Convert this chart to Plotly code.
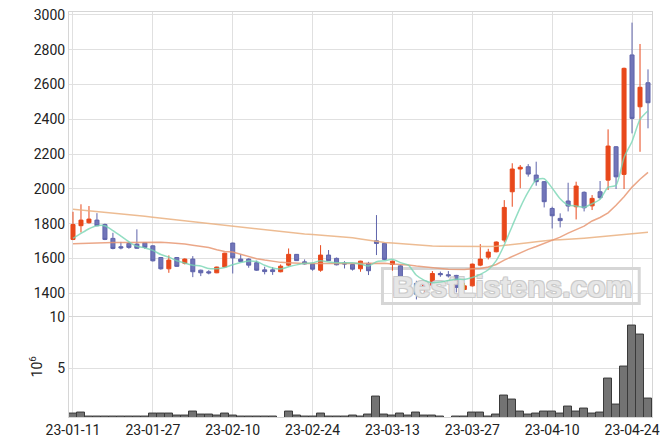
import plotly.graph_objects as go
import pandas as pd

# ---------------- data ----------------
dates = [
    "23-01-11", "23-01-12", "23-01-13", "23-01-16", "23-01-17", "23-01-18", "23-01-19", "23-01-20",
    "23-01-25", "23-01-26", "23-01-27", "23-01-30", "23-01-31",
    "23-02-01", "23-02-02", "23-02-03", "23-02-06", "23-02-07", "23-02-08", "23-02-09", "23-02-10",
    "23-02-13", "23-02-14", "23-02-15", "23-02-16", "23-02-17", "23-02-20", "23-02-21", "23-02-22",
    "23-02-23", "23-02-24", "23-02-27", "23-02-28",
    "23-03-02", "23-03-03", "23-03-06", "23-03-07", "23-03-08", "23-03-09", "23-03-10", "23-03-13",
    "23-03-14", "23-03-15", "23-03-16", "23-03-17", "23-03-20", "23-03-21", "23-03-22", "23-03-23",
    "23-03-24", "23-03-27", "23-03-28", "23-03-29", "23-03-30", "23-03-31",
    "23-04-03", "23-04-04", "23-04-05", "23-04-06", "23-04-07", "23-04-10", "23-04-11", "23-04-12",
    "23-04-13", "23-04-14", "23-04-17", "23-04-18", "23-04-19", "23-04-20", "23-04-21", "23-04-24",
    "23-04-25", "23-04-26",
]

open_ = [1709, 1788, 1805, 1820, 1795, 1715, 1667, 1686, 1682, 1690,
         1672, 1605, 1540, 1605, 1572, 1596, 1532, 1523, 1517, 1551,
         1688, 1596, 1596, 1575, 1534, 1534, 1523, 1561, 1623, 1580,
         1567, 1532, 1619, 1600, 1573, 1565, 1540, 1571, 1701, 1686,
         1565, 1557, 1485, 1456, 1421, 1446, 1513, 1506, 1502, 1421,
         1442, 1561, 1607, 1638, 1705, 1983, 2114, 2127, 2079, 2041,
         1887, 1830, 1930, 1897, 1980, 1902, 1983, 2050, 2242, 2083,
         2770, 2472, 2610]
high = [1868, 1911, 1901, 1860, 1800, 1747, 1695, 1695, 1767, 1692,
        1675, 1607, 1617, 1608, 1600, 1613, 1535, 1532, 1552, 1632,
        1690, 1623, 1600, 1587, 1552, 1550, 1565, 1657, 1625, 1594,
        1570, 1676, 1648, 1605, 1584, 1567, 1586, 1580, 1849, 1690,
        1586, 1562, 1490, 1471, 1452, 1527, 1524, 1527, 1505, 1459,
        1570, 1682, 1655, 1697, 1935, 2147, 2137, 2142, 2156, 2045,
        1897, 1859, 2035, 2041, 1985, 1964, 2045, 2342, 2246, 2697,
        2956, 2833, 2687]
low = [1705, 1749, 1800, 1785, 1705, 1652, 1652, 1655, 1655, 1655,
       1582, 1535, 1517, 1552, 1565, 1492, 1498, 1508, 1515, 1548,
       1513, 1578, 1546, 1528, 1508, 1505, 1520, 1555, 1585, 1565,
       1529, 1523, 1585, 1560, 1542, 1530, 1523, 1504, 1619, 1590,
       1529, 1482, 1417, 1364, 1387, 1443, 1494, 1490, 1404, 1418,
       1438, 1555, 1594, 1635, 1692, 1897, 2003, 2070, 2018, 1893,
       1772, 1778, 1870, 1824, 1870, 1878, 1940, 1993, 1999, 1999,
       2319, 2213, 2348]
close = [1795, 1820, 1826, 1788, 1709, 1657, 1660, 1663, 1658, 1663,
         1586, 1540, 1590, 1554, 1596, 1523, 1517, 1516, 1550, 1630,
         1603, 1582, 1561, 1532, 1524, 1524, 1555, 1623, 1587, 1568,
         1538, 1619, 1587, 1563, 1568, 1538, 1584, 1529, 1686, 1594,
         1584, 1485, 1456, 1394, 1450, 1513, 1506, 1500, 1433, 1442,
         1567, 1596, 1636, 1694, 1893, 2114, 2124, 2085, 2041, 1926,
         1845, 1817, 1901, 2016, 1891, 1945, 1949, 2246, 2069, 2693,
         2405, 2584, 2495]

# closes of the four sessions before the first shown day (read from the MA5 start)
prior_close = [1680, 1690, 1700, 1711]

# 20- and 60-day moving averages as drawn (depend on older data)
ma20 = [1684, 1686, 1688, 1691, 1692, 1692, 1692, 1693, 1694, 1695,
        1695, 1693, 1690, 1687, 1682, 1676, 1670, 1663, 1650, 1640,
        1636, 1622, 1610, 1598, 1590, 1583, 1577, 1575, 1571, 1571,
        1571, 1571, 1571, 1572, 1573, 1574, 1575, 1575, 1574, 1572,
        1568, 1566, 1562, 1556, 1550, 1547, 1542, 1538, 1536, 1536,
        1540, 1542, 1550, 1565, 1590, 1612, 1633, 1652, 1668, 1685,
        1705, 1722, 1745, 1765, 1785, 1815, 1835, 1862, 1905, 1955,
        2010, 2055, 2095]
ma60 = [1882, 1878, 1874, 1870, 1866, 1862, 1857, 1852, 1847, 1842,
        1836, 1831, 1826, 1820, 1815, 1809, 1804, 1800, 1796, 1791,
        1784, 1779, 1774, 1770, 1764, 1758, 1752, 1748, 1744, 1740,
        1737, 1734, 1731, 1728, 1724, 1719, 1712, 1704, 1697, 1692,
        1688, 1684, 1679, 1675, 1672, 1671, 1670, 1669, 1668, 1667,
        1667, 1667, 1668, 1670, 1674, 1678, 1684, 1690, 1696, 1702,
        1705, 1707, 1709, 1712, 1716, 1720, 1724, 1728, 1731, 1735,
        1740, 1745, 1750]

# volume in millions of shares
volume_m = [0.52, 0.62, 0.28, 0.28, 0.28, 0.28, 0.28, 0.28, 0.28, 0.28,
            0.59, 0.59, 0.59, 0.39, 0.39, 0.81, 0.49, 0.49, 0.39, 0.52,
            0.39, 0.28, 0.28, 0.28, 0.28, 0.28, 0.10, 0.81, 0.42, 0.28,
            0.28, 0.59, 0.28, 0.28, 0.28, 0.39, 0.28, 0.49, 2.25, 0.49,
            0.39, 0.59, 0.39, 0.69, 0.39, 0.39, 0.28, 0.10, 0.28, 0.28,
            0.69, 0.69, 0.28, 0.49, 2.35, 1.96, 0.81, 0.49, 0.59, 0.81,
            0.81, 0.59, 1.27, 0.81, 1.01, 0.59, 0.69, 4.02, 1.47, 5.20,
            9.22, 8.33, 2.02]

price_ticks = [1400, 1600, 1800, 2000, 2200, 2400, 2600, 2800, 3000]
volume_ticks = [5, 10]
x_ticks = dates[::10]
watermark = "BestListens.com"

# MA5 from closes
ma5 = pd.Series(prior_close + close).rolling(5).mean().tolist()[len(prior_close):]

# ---------------- figure ----------------
grid = "#e0e0e0"
frame = "#d6d6d6"
font_family = "Roboto, 'Liberation Sans', sans-serif"
tick_font = dict(family=font_family, size=14, color="#222")

fig = go.Figure()

# watermark (behind the candles)
fig.add_trace(go.Scatter(
    x=[dates[55]], y=[1420], mode="text", text=[watermark],
    textposition="middle center",
    textfont=dict(family="Liberation Sans, Arial, sans-serif", size=30, color="#e6e6e6",
                  weight="bold",
                  shadow="-1px -1px 0 #cbcbcb, 1px -1px 0 #cbcbcb, -1px 1px 0 #cbcbcb, 1px 1px 0 #cbcbcb"),
    hoverinfo="skip", showlegend=False, xaxis="x", yaxis="y"))

fig.add_trace(go.Candlestick(
    x=dates, open=open_, high=high, low=low, close=close,
    increasing=dict(line=dict(color="#e8481b", width=1), fillcolor="#e8481b"),
    decreasing=dict(line=dict(color="#5f64ab", width=1), fillcolor="#7175b9"),
    whiskerwidth=0, showlegend=False, xaxis="x", yaxis="y"))

fig.add_trace(go.Scatter(x=dates, y=ma60, mode="lines",
                         line=dict(color="rgba(234,176,128,0.85)", width=1.5),
                         showlegend=False, hoverinfo="skip", xaxis="x", yaxis="y"))
fig.add_trace(go.Scatter(x=dates, y=ma20, mode="lines",
                         line=dict(color="rgba(232,152,115,0.85)", width=1.5),
                         showlegend=False, hoverinfo="skip", xaxis="x", yaxis="y"))
fig.add_trace(go.Scatter(x=dates, y=ma5, mode="lines",
                         line=dict(color="rgba(120,214,180,0.8)", width=1.5, shape="spline", smoothing=0.6),
                         showlegend=False, hoverinfo="skip", xaxis="x", yaxis="y"))

fig.add_trace(go.Bar(x=dates, y=volume_m, marker=dict(color="#737373", line=dict(color="#3a3a3a", width=1)),
                     width=1, showlegend=False, hoverinfo="skip", xaxis="x2", yaxis="y2"))

# watermark frame
fig.add_shape(type="rect", xref="x", yref="y", x0=38.75, x1=70.9, y0=1341, y1=1542,
              line=dict(color="#d6d6d6", width=3), fillcolor="rgba(0,0,0,0)", layer="between")

xcommon = dict(type="category", categoryorder="array", categoryarray=dates,
               range=[-0.5, len(dates) - 0.5], tickmode="array", tickvals=x_ticks,
               showgrid=True, gridcolor=grid, gridwidth=1, showline=True, mirror=True, linecolor=frame,
               ticks="", zeroline=False, automargin=False, tickfont=tick_font)

fig.update_layout(
    width=671, height=446,
    margin=dict(l=69, r=19, t=12, b=29, autoexpand=False),
    paper_bgcolor="white", plot_bgcolor="white",
    bargap=0, boxgap=0.28,
    showlegend=False,
    xaxis=dict(**xcommon, anchor="y", showticklabels=False, rangeslider=dict(visible=False)),
    xaxis2=dict(**xcommon, anchor="y2", matches="x", showticklabels=True),
    yaxis=dict(domain=[0.25, 1.0], range=[1270, 3017], tickmode="array", tickvals=price_ticks,
               showgrid=True, gridcolor=grid, showline=True, mirror=True, linecolor=frame,
               ticks="", zeroline=False, tickfont=tick_font, automargin=False, anchor="x"),
    yaxis2=dict(domain=[0.0, 0.248], range=[0.23, 10.08], tickmode="array", tickvals=volume_ticks,
                showgrid=True, gridcolor=grid, showline=True, mirror=True, linecolor=frame,
                ticks="", zeroline=False, tickfont=tick_font, automargin=False, anchor="x2",
                title=dict(text="10<sup>6</sup>", font=dict(family=font_family, size=14, color="#222"),
                           standoff=3)),
)

fig.write_html("out.html")
